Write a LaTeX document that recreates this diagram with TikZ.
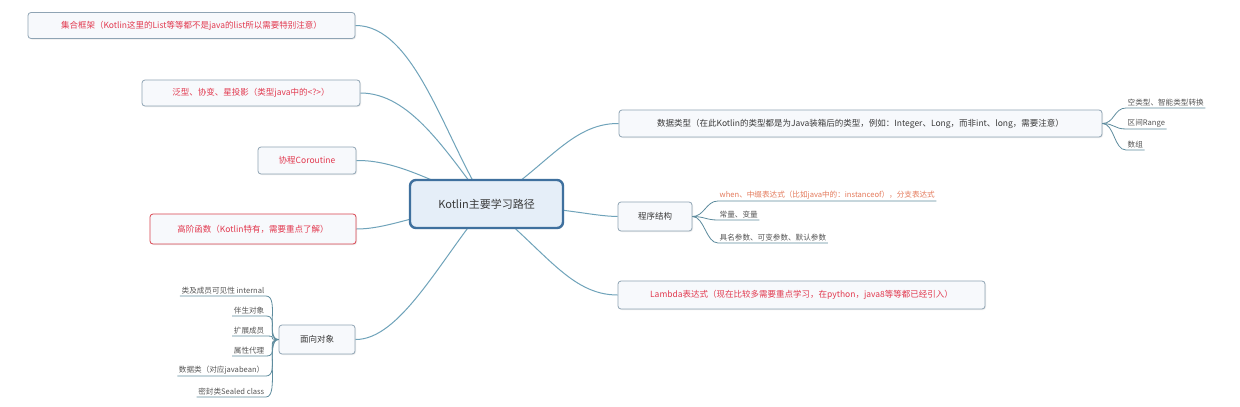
\documentclass[tikz,border=0pt]{standalone}
\usepackage{fontspec}
\setmainfont{Noto Sans CJK SC}
\usetikzlibrary{backgrounds,shadows}
\definecolor{conn}{HTML}{6FA3BA}
\definecolor{bord}{HTML}{8FA4B4}
\definecolor{boxfill}{HTML}{F7F9FC}
\definecolor{redtxt}{HTML}{E2394F}
\definecolor{redbord}{HTML}{D9434E}
\definecolor{rootbord}{HTML}{3F709E}
\definecolor{rootfill}{HTML}{E5EEF8}
\definecolor{leafline}{HTML}{5E8C9E}
\definecolor{leaftxt}{HTML}{555555}
\definecolor{orangetxt}{HTML}{E4795A}
\definecolor{darktxt}{HTML}{3A3A3A}
\begin{document}
\begin{tikzpicture}[x=1pt,y=-1pt,
  topic/.style={draw=bord, line width=0.8pt, rounded corners=3pt, fill=boxfill, inner sep=0pt,
    font=\fontsize{8.5}{10}\selectfont, text=darktxt,
    drop shadow={opacity=0.15,shadow xshift=1pt,shadow yshift=-1pt}},
  redtopic/.style={topic, text=redtxt},
  root/.style={draw=rootbord, line width=2.4pt, rounded corners=6pt, fill=rootfill, inner sep=0pt,
    font=\fontsize{11}{13}\selectfont, text=darktxt,
    drop shadow={opacity=0.15,shadow xshift=1pt,shadow yshift=-1pt}},
  leaf/.style={inner sep=1.5pt, font=\fontsize{7.6}{9}\selectfont, text=leaftxt},
  conline/.style={draw=conn, line width=1pt},
  leafconn/.style={draw=leafline, line width=0.8pt}
]
\useasboundingbox (0,0) rectangle (1240,407);

% root
\node[root, minimum width=153pt, minimum height=48pt] (root) at (486.5,204) {Kotlin主要学习路径};

% left topics
\node[redtopic, minimum width=327pt, minimum height=26pt] (jihe) at (191.5,25.5) {集合框架（Kotlin这里的List等等都不是java的list所以需要特别注意）};
\node[redtopic, minimum width=218pt, minimum height=26pt] (fanxing) at (251,93) {泛型、协变、星投影（类型java中的<?>）};
\node[redtopic, minimum width=98pt, minimum height=27pt] (xiecheng) at (307,160.5) {协程Coroutine};
\node[redtopic, draw=redbord, minimum width=206pt, minimum height=30pt] (gaojie) at (253,229) {高阶函数（Kotlin特有，需要重点了解）};
\node[topic, minimum width=76pt, minimum height=29pt] (mianxiang) at (317,339.5) {面向对象};

% right topics
\node[topic, minimum width=483pt, minimum height=27pt] (shuju) at (860.5,123.5) {数据类型（在此Kotlin的类型都是为Java装箱后的类型，例如：Integer、Long，而非int、long，需要注意）};
\node[topic, minimum width=74pt, minimum height=29pt] (chengxu) at (655,216.5) {程序结构};
\node[redtopic, minimum width=367pt, minimum height=28pt] (lambda) at (801.5,295) {Lambda表达式（现在比较多需要重点学习，在python，java8等等都已经引入）};

% leaves of 数据类型
\node[leaf, anchor=south west] (s1) at (1126,108) {空类型、智能类型转换};
\node[leaf, anchor=south west] (s2) at (1126,129) {区间Range};
\node[leaf, anchor=south west] (s3) at (1126,150) {数组};

% leaves of 程序结构
\node[leaf, anchor=south west, text=orangetxt] (c1) at (718,201) {when、中缀表达式（比如java中的：instanceof），分支表达式};
\node[leaf, anchor=south west] (c2) at (718,220) {常量、变量};
\node[leaf, anchor=south west] (c3) at (718,243) {具名参数、可变参数、默认参数};

% leaves of 面向对象
\node[leaf, anchor=south east] (m1) at (266,296) {类及成员可见性 internal};
\node[leaf, anchor=south east] (m2) at (266,316) {伴生对象};
\node[leaf, anchor=south east] (m3) at (266,336) {扩展成员};
\node[leaf, anchor=south east] (m4) at (266,356) {属性代理};
\node[leaf, anchor=south east] (m5) at (266,376) {数据类（对应javabean）};
\node[leaf, anchor=south east] (m6) at (266,397) {密封类Sealed class};

\begin{scope}[on background layer]
  \fill[white] (0,0) rectangle (1240,407);
  \draw[conline] (jihe.east) .. controls (415,25) and (445,140) .. (root.center);
  \draw[conline] (fanxing.east) .. controls (410,93) and (445,150) .. (root.center);
  \draw[conline] (xiecheng.east) .. controls (395,160) and (430,180) .. (root.center);
  \draw[conline] (gaojie.east) .. controls (390,229) and (420,212) .. (root.center);
  \draw[conline] (mianxiang.east) .. controls (400,340) and (440,260) .. (root.center);
  \draw[conline] (shuju.west) .. controls (570,123) and (545,170) .. (root.center);
  \draw[conline] (chengxu.west) .. controls (590,216) and (570,208) .. (root.center);
  \draw[conline] (lambda.west) .. controls (570,295) and (545,250) .. (root.center);
\end{scope}

% leaf connectors
\foreach \l in {s1,s2,s3}{
  \draw[leafconn] (shuju.east) .. controls +(12,0) and +(-12,0) .. (\l.south west) -- (\l.south east);
}
\foreach \l in {c1,c2,c3}{
  \draw[leafconn] (chengxu.east) .. controls +(12,0) and +(-12,0) .. (\l.south west) -- (\l.south east);
}
\foreach \l in {m1,m2,m3,m4,m5,m6}{
  \draw[leafconn] (mianxiang.west) .. controls +(-14,0) and +(14,0) .. (\l.south east) -- (\l.south west);
}
\end{tikzpicture}
\end{document}
